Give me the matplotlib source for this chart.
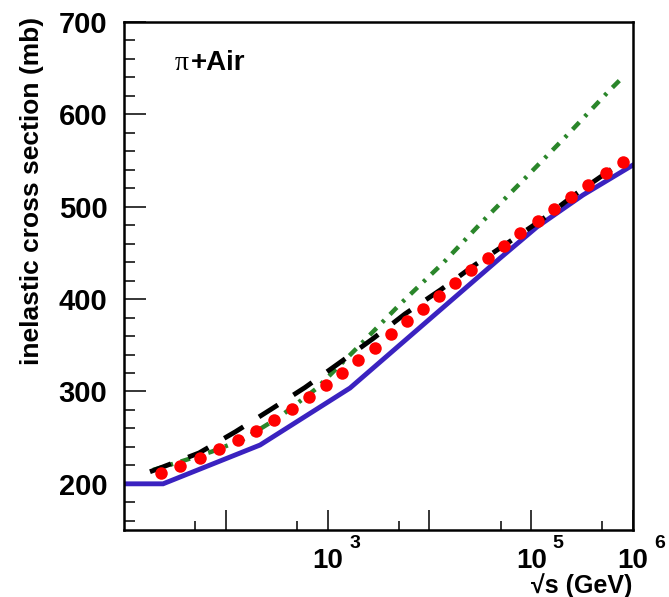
import matplotlib
matplotlib.use("Agg")
import matplotlib.pyplot as plt
import matplotlib.transforms as mtransforms

# red points (model calculation)
sqrt_s_pts = [22.9, 35.7, 55.5, 85.7, 132, 200, 297, 447, 661, 957, 1384, 2004,
              2924, 4169, 5984, 8710, 12330, 17820, 25640, 37410, 54450, 78160,
              115900, 166300, 246000, 358900, 539500, 792500]
sigma_pts = [211.4, 219.6, 228.0, 237.7, 247.4, 257.5, 268.8, 281.0, 293.8, 307.3,
             320.0, 333.7, 347.4, 361.9, 376.3, 389.3, 403.4, 417.2, 431.0, 444.5,
             457.8, 471.9, 484.6, 497.9, 510.9, 523.2, 536.2, 548.8]

# blue solid
sqrt_s_blue = [10, 24.2, 217, 1660, 49300, 114000, 322700, 1e6]
sigma_blue = [200, 200, 242, 303.7, 444.2, 478.1, 512.7, 545.2]

# black dashed
sqrt_s_dash = [18.0, 22.6, 54.6, 124.5, 274.8, 600, 1324, 2761, 5754, 12940,
               27040, 59700, 129100, 272300, 583400, 779800]
sigma_dash = [213.1, 217.1, 233.4, 256.4, 280.3, 304.3, 331.4, 356.8, 383.9, 410.2,
              435.9, 461.3, 486.5, 513.6, 538.8, 548.5]

# green dash-dot
sqrt_s_green = [19.3, 38.3, 72.6, 148.6, 340.4, 781.6, 2004, 5140, 13710, 33810,
                88920, 226500, 571500, 744700]
sigma_green = [215.0, 225.0, 234.8, 248.2, 272.7, 303.4, 348.5, 394.4, 439.4, 484.9,
               531.9, 577.7, 624.6, 637.2]

x_major = [1e2, 1e3, 1e4, 1e5, 1e6]
x_major_labels = ["", "10", "", "10", "10"]
x_exponents = {1e3: "3", 1e5: "5", 1e6: "6"}
x_minor = [5e1, 5e2, 5e3, 5e4, 5e5]

plt.rcParams["font.family"] = ["Liberation Sans", "DejaVu Sans"]
plt.rcParams["font.weight"] = "bold"

fig = plt.figure(figsize=(6.69, 5.97), dpi=100)
ax = fig.add_axes([124 / 669, 1 - 530 / 597, 509 / 669, 508 / 597])

ax.plot(sqrt_s_blue, sigma_blue, color="#3a22c0", lw=3.5, solid_joinstyle="miter")
ax.plot(sqrt_s_green, sigma_green, color="#2a862a", lw=3.2,
        linestyle=(0, (2.2, 1.8, 0.7, 1.8)))
ax.plot(sqrt_s_dash, sigma_dash, color="black", lw=3.5,
        linestyle=(0, (4.6, 3.8)))
ax.plot(sqrt_s_pts, sigma_pts, "o", color="#ff0000", ms=9, mec="none")

ax.set_xscale("log")
ax.set_xlim(10, 1e6)
ax.set_ylim(150, 700)

ax.set_xticks(x_major)
ax.set_xticklabels(x_major_labels)
ax.set_xticks(x_minor, minor=True)
ax.set_xticklabels([""] * len(x_minor), minor=True)
ax.set_yticks(range(200, 701, 100))
ax.set_yticks(range(160, 700, 20), minor=True)

ax.tick_params(axis="both", which="both", direction="in", width=1.1,
               top=False, right=False, color="black")
ax.tick_params(axis="x", which="major", length=14.7, pad=13, labelsize=20)
ax.tick_params(axis="x", which="minor", length=6.8)
ax.tick_params(axis="y", which="major", length=15.8, pad=12, labelsize=21)
ax.tick_params(axis="y", which="minor", length=7.9)
for lab in ax.get_xticklabels() + ax.get_yticklabels():
    lab.set_fontweight("bold")

for sp in ax.spines.values():
    sp.set_linewidth(1.8)

# exponents of the x tick labels
exp_tr = mtransforms.offset_copy(ax.get_xaxis_transform(), fig=fig,
                                 x=27, y=-14, units="dots")
for val, e in x_exponents.items():
    ax.text(val, 0, e, transform=exp_tr, ha="center", va="center",
            fontsize=14, fontweight="bold")

# title text inside the frame
ax.text(0.100, 0.9055, "\u03c0", transform=ax.transAxes, fontsize=20,
        family=["Liberation Serif", "DejaVu Serif"], fontweight="normal",
        va="baseline", ha="left")
ax.text(0.1316, 0.9055, "+Air", transform=ax.transAxes, fontsize=20,
        fontweight="bold", va="baseline", ha="left")

fig.text(32 / 669, 1 - 17 / 597, "inelastic cross section (mb)", rotation=90,
         ha="center", va="top", fontsize=19, fontweight="bold")
fig.text(632 / 669, 1 - 593 / 597, "\u221as (GeV)", ha="right", va="baseline",
         fontsize=18, fontweight="bold")

fig.savefig("out.png", dpi=100)
